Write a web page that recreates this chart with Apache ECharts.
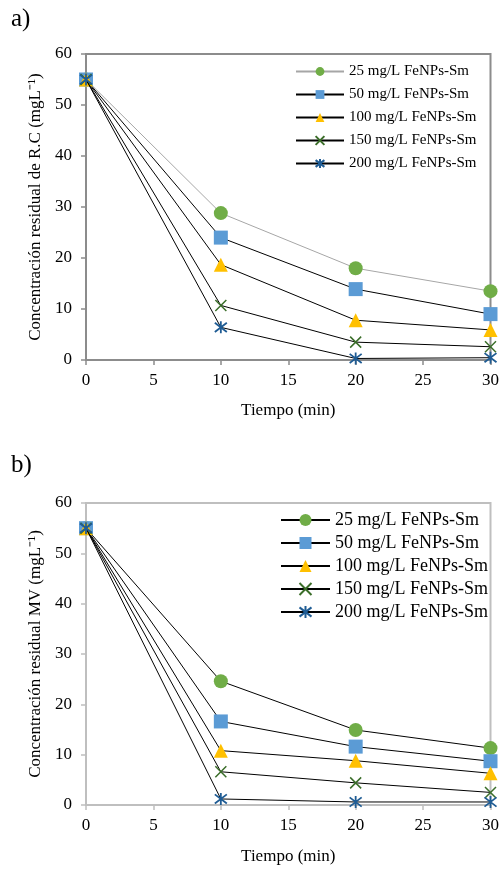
<!DOCTYPE html>
<html>
<head>
<meta charset="utf-8">
<script src="https://cdn.jsdelivr.net/npm/echarts@6/dist/echarts.min.js"></script>
<style>
html,body{margin:0;padding:0;background:#fff;}
#a{position:absolute;left:0;top:0;width:502px;height:435px;}
#b{position:absolute;left:0;top:435px;width:502px;height:435px;}
</style>
</head>
<body>
<div id="a"></div>
<div id="b"></div>
<script>
// Shared
var times = [0, 10, 20, 30];
var seriesNames = ['25 mg/L FeNPs-Sm', '50 mg/L FeNPs-Sm', '100 mg/L FeNPs-Sm', '150 mg/L FeNPs-Sm', '200 mg/L FeNPs-Sm'];
var xTicks = [0, 5, 10, 15, 20, 25, 30];
var yTicks = [0, 10, 20, 30, 40, 50, 60];

// Panel a) R.C
var rc25 = [55, 28.8, 18.0, 13.5];
var rc50 = [55, 24.0, 13.9, 9.0];
var rc100 = [55, 18.7, 7.8, 5.9];
var rc150 = [55, 10.7, 3.5, 2.6];
var rc200 = [55, 6.4, 0.3, 0.45];

// Panel b) MV
var mv25 = [55, 24.6, 14.9, 11.3];
var mv50 = [55, 16.6, 11.6, 8.7];
var mv100 = [55, 10.8, 8.8, 6.3];
var mv150 = [55, 6.6, 4.4, 2.5];
var mv200 = [55, 1.2, 0.6, 0.6];

var FONT = '"Liberation Serif", "Times New Roman", serif';
var XPATH = 'path://M0 0 L10 10 M10 0 L0 10';
var STARPATH = 'path://M0 0 L10 10 M10 0 L0 10 M5 -1.5 L5 11.5';

function pairs(vals) {
  return times.map(function (t, i) { return [t, vals[i]]; });
}

var markers = [
  { symbol: 'circle', size: 14, color: '#70AD47', border: 0 },
  { symbol: 'rect', size: 14, color: '#5B9BD5', border: 0 },
  { symbol: 'triangle', size: 14, color: '#FFC000', border: 0 },
  { symbol: XPATH, size: 11, color: '#3B6E2A', border: 1.5 },
  { symbol: STARPATH, size: 12, color: '#1F5C94', border: 1.8 }
];

function makeOption(cfg) {
  var series = cfg.data.map(function (vals, i) {
    var m = markers[i];
    return {
      name: seriesNames[i],
      type: 'line',
      data: pairs(vals),
      symbol: m.symbol,
      symbolSize: m.size,
      showAllSymbol: true,
      z: 2 + i,
      lineStyle: { color: cfg.lineColors[i], width: 1 },
      itemStyle: { color: m.color, borderColor: m.color, borderWidth: m.border },
      emphasis: { disabled: true },
      animation: false
    };
  });
  return {
    animation: false,
    textStyle: { fontFamily: FONT },
    title: {
      text: cfg.label, left: 6, top: cfg.labelTop,
      textStyle: { fontFamily: FONT, fontSize: 25, fontWeight: 'normal', color: '#000' }
    },
    grid: {
      left: 86, right: 11, top: cfg.gridTop, bottom: cfg.gridBottom,
      show: true, borderColor: cfg.axisColor, borderWidth: 2, backgroundColor: 'transparent'
    },
    legend: {
      orient: 'vertical', left: cfg.legendLeft, top: cfg.legendTop, padding: 0,
      itemWidth: cfg.legendItemWidth, itemHeight: cfg.legendItemHeight, itemGap: cfg.legendGap,
      textStyle: { fontFamily: FONT, fontSize: cfg.legendFont, color: '#000' },
      data: seriesNames
    },
    xAxis: {
      type: 'value', min: 0, max: 30, interval: 5,
      name: 'Tiempo (min)', nameLocation: 'middle', nameGap: cfg.xNameGap,
      nameTextStyle: { fontFamily: FONT, fontSize: 17, color: '#000' },
      axisLine: { show: true, lineStyle: { color: cfg.axisColor, width: 2 } },
      axisTick: { show: true, length: 5, lineStyle: { color: cfg.axisColor, width: 1.5 } },
      axisLabel: {
        fontFamily: FONT, fontSize: 17, color: '#000', margin: 12,
        formatter: function (v) { return xTicks.indexOf(v) >= 0 ? String(v) : ''; }
      },
      splitLine: { show: false }
    },
    yAxis: {
      type: 'value', min: 0, max: 60, interval: 10,
      name: cfg.yName, nameLocation: 'middle', nameGap: 42, nameRotate: 90,
      nameTextStyle: { fontFamily: FONT, fontSize: 17, color: '#000' },
      axisLine: { show: true, lineStyle: { color: cfg.axisColor, width: 2 } },
      axisTick: { show: true, length: 5, lineStyle: { color: cfg.axisColor, width: 1.5 } },
      axisLabel: {
        fontFamily: FONT, fontSize: 17, color: '#000', margin: 14,
        formatter: function (v) { return yTicks.indexOf(v) >= 0 ? String(v) : ''; }
      },
      splitLine: { show: false }
    },
    series: series
  };
}

var chartA = echarts.init(document.getElementById('a'), null, { renderer: 'canvas' });
chartA.setOption(makeOption({
  label: 'a)', labelTop: 2,
  data: [rc25, rc50, rc100, rc150, rc200],
  lineColors: ['#a6a6a6', '#000', '#000', '#000', '#000'],
  axisColor: '#8c8c8c',
  gridTop: 54, gridBottom: 75,
  legendLeft: 295, legendTop: 64, legendItemWidth: 48, legendItemHeight: 11, legendGap: 8, legendFont: 15,
  xNameGap: 42,
  yName: 'Concentración residual de R.C (mgL⁻¹)'
}));

var chartB = echarts.init(document.getElementById('b'), null, { renderer: 'canvas' });
chartB.setOption(makeOption({
  label: 'b)', labelTop: 13,
  data: [mv25, mv50, mv100, mv150, mv200],
  lineColors: ['#000', '#000', '#000', '#000', '#000'],
  axisColor: '#bfbfbf',
  gridTop: 68, gridBottom: 61,
  legendLeft: 280, legendTop: 76, legendItemWidth: 49, legendItemHeight: 15, legendGap: 5, legendFont: 18,
  xNameGap: 43,
  yName: 'Concentración residual MV (mgL⁻¹)'
}));
</script>
</body>
</html>
